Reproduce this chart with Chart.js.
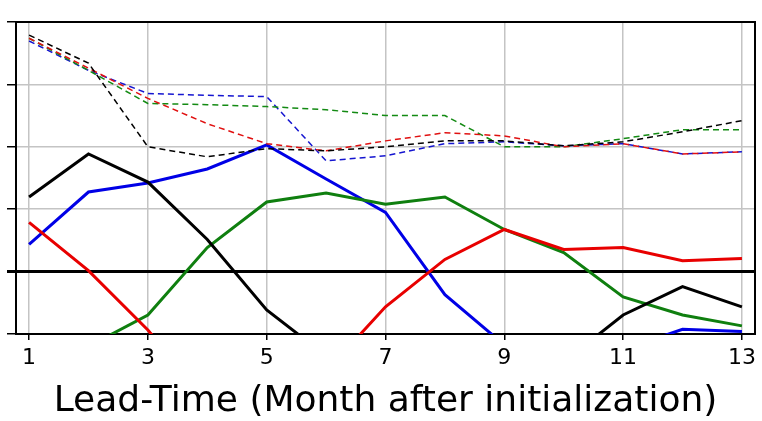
<!DOCTYPE html>
<html>
<head>
<meta charset="utf-8">
<script src="https://cdn.jsdelivr.net/npm/chart.js@4.4.1/dist/chart.umd.min.js"></script>
<style>
  html, body { margin: 0; padding: 0; background: #fff; }
  #wrap { width: 762px; height: 421px; }
</style>
</head>
<body>
<div id="wrap"><canvas id="leadChart"></canvas></div>
<script>
// lead months and tick positions
const months = [1, 2, 3, 4, 5, 6, 7, 8, 9, 10, 11, 12, 13];
const xTicks = [1, 3, 5, 7, 9, 11, 13];
const yTicks = [-0.2, 0, 0.2, 0.4, 0.6, 0.8];

// solid curves
const blackSolid = [0.239, 0.377, 0.287, 0.103, -0.123, -0.27, -0.34, -0.38, -0.36, -0.29, -0.139, -0.048, -0.113];
const redSolid   = [0.158, 0.003, -0.187, -0.42, -0.45, -0.32, -0.113, 0.039, 0.135, 0.071, 0.077, 0.035, 0.042];
const blueSolid  = [0.087, 0.255, 0.284, 0.329, 0.406, 0.297, 0.190, -0.074, -0.235, -0.38, -0.25, -0.185, -0.192];
const greenSolid = [-0.30, -0.24, -0.139, 0.077, 0.223, 0.252, 0.216, 0.239, 0.135, 0.061, -0.081, -0.139, -0.174];

// dashed curves
const blackDash = [0.758, 0.668, 0.400, 0.368, 0.394, 0.387, 0.400, 0.419, 0.419, 0.403, 0.416, 0.448, 0.484];
const redDash   = [0.748, 0.652, 0.555, 0.474, 0.410, 0.387, 0.419, 0.445, 0.435, 0.400, 0.410, 0.377, 0.384];
const greenDash = [0.748, 0.645, 0.539, 0.535, 0.529, 0.519, 0.500, 0.500, 0.400, 0.400, 0.426, 0.455, 0.455];
const blueDash  = [0.739, 0.645, 0.571, 0.565, 0.561, 0.355, 0.371, 0.410, 0.416, 0.403, 0.410, 0.377, 0.384];

const pts = arr => arr.map((v, i) => ({ x: months[i], y: v }));

function solid(data, color) {
    return { data: pts(data), borderColor: color, borderWidth: 3, pointRadius: 0, tension: 0, fill: false };
}
function dashed(data, color) {
    return { data: pts(data), borderColor: color, borderWidth: 1.5, borderDash: [6, 4], pointRadius: 0, tension: 0, fill: false };
}

const gridGray = '#c4c4c4';

new Chart(document.getElementById('leadChart'), {
    type: 'line',
    data: {
        datasets: [
            dashed(blackDash, '#000000'),
            dashed(redDash, '#e01010'),
            dashed(greenDash, '#138a13'),
            dashed(blueDash, '#1515d0'),
            solid(blackSolid, '#000000'),
            solid(redSolid, '#e80000'),
            solid(greenSolid, '#0f7f0f'),
            solid(blueSolid, '#0000e6')
        ]
    },
    options: {
        responsive: true,
        maintainAspectRatio: false,
        animation: false,
        layout: { padding: { top: 22, right: 7, left: 7, bottom: 0 } },
        plugins: { legend: { display: false }, tooltip: { enabled: false } },
        scales: {
            x: {
                type: 'linear',
                min: 0.78,
                max: 13.22,
                afterBuildTicks: s => { s.ticks = xTicks.map(v => ({ value: v })); },
                // fixed band under the plot for tick labels and the axis title
                afterFit: s => { s.height = 87; },
                grid: { color: gridGray, lineWidth: 1.5, tickColor: '#000', tickLength: 6 },
                border: { color: '#000', width: 2 },
                ticks: { color: '#000', font: { family: 'DejaVu Sans', size: 22 }, padding: 5, maxRotation: 0 },
                title: {
                    display: true,
                    text: 'Lead-Time (Month after initialization)',
                    color: '#000',
                    font: { family: 'DejaVu Sans', size: 36, lineHeight: 1.1 },
                    padding: { top: 0, bottom: 0 }
                }
            },
            y: {
                min: -0.2,
                max: 0.8,
                afterBuildTicks: s => { s.ticks = yTicks.map(v => ({ value: v })); },
                grid: {
                    color: c => (c.tick && c.tick.value === 0) ? '#000' : gridGray,
                    lineWidth: c => (c.tick && c.tick.value === 0) ? 3 : 1.5,
                    tickColor: '#000',
                    tickLength: 9
                },
                border: { color: '#000', width: 2 },
                ticks: { display: false }
            },
            xTop: {
                type: 'linear',
                position: 'top',
                min: 0.78,
                max: 13.22,
                grid: { drawOnChartArea: false, drawTicks: false },
                border: { color: '#000', width: 2 },
                ticks: { display: false }
            },
            yRight: {
                position: 'right',
                min: -0.2,
                max: 0.8,
                grid: { drawOnChartArea: false, drawTicks: false },
                border: { color: '#000', width: 2 },
                ticks: { display: false }
            }
        }
    }
});
</script>
</body>
</html>
